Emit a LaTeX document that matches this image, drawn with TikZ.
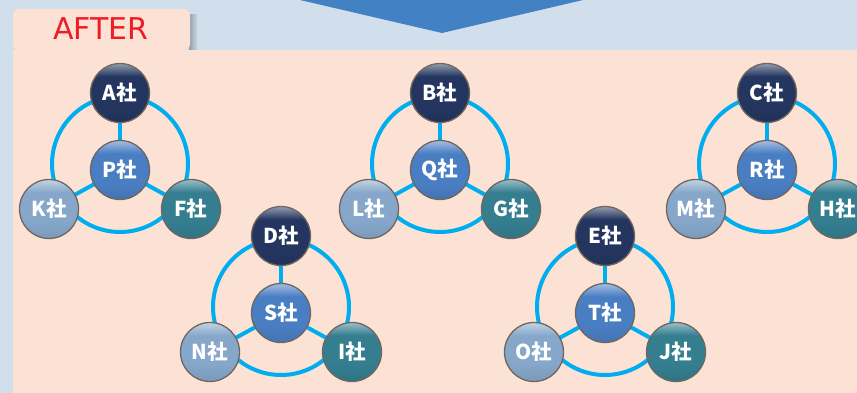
\documentclass[tikz,border=0pt]{standalone}
\usepackage{fontspec}
\setmainfont{DejaVu Sans}
\newfontfamily\jp{Noto Sans CJK JP}
\pgfdeclarelayer{bg}
\pgfsetlayers{bg,main}
\definecolor{bgblue}{HTML}{D1DFEC}
\definecolor{panel}{HTML}{FBE2D5}
\definecolor{arrowblue}{HTML}{4281C4}
\definecolor{afterred}{HTML}{EE1C25}
\definecolor{navy}{HTML}{243660}
\definecolor{midc}{HTML}{4A7EC3}
\definecolor{leftc}{HTML}{86A7CA}
\definecolor{rightc}{HTML}{347E90}
\definecolor{ringc}{HTML}{00AEEF}
\definecolor{rimc}{HTML}{6F6660}
\colorlet{base}{navy}
\pgfdeclareverticalshading[base]{glow}{100bp}{color(0bp)=(base!92!black); color(25bp)=(base!92!black); color(40bp)=(base); color(64bp)=(base); color(75bp)=(base!50!white); color(100bp)=(base!50!white)}
\tikzset{
  ball/.style={circle, minimum size=59pt, inner sep=0pt, draw=rimc, line width=1.3pt,
    text=white, font=\jp\bfseries\fontsize{20.5}{20.5}\selectfont,
    /utils/exec={\colorlet{base}{#1}}, shading=glow},
  ringline/.style={draw=ringc, line width=4pt},
  spoke/.style={draw=ringc, line width=4pt},
}
\newcommand\mycluster[6]{%
  \node[ball=navy]  (#3) at (#1,#2-77) {#3社};
  \node[ball=leftc] (#5) at (#1-71,#2+39) {#5社};
  \node[ball=rightc](#6) at (#1+71,#2+39) {#6社};
  \node[ball=midc]  (#4) at (#1,#2) {#4社};
  \coordinate (ring#4) at (#1,#2-6);
  \begin{pgfonlayer}{bg}
    \draw[ringline] (ring#4) circle[radius=68pt];
    \draw[spoke] (#4.center) -- (#3.center);
    \draw[spoke] (#4.center) -- (#5.center);
    \draw[spoke] (#4.center) -- (#6.center);
  \end{pgfonlayer}
}
\begin{document}
\begin{tikzpicture}[x=1pt,y=-1pt]
\useasboundingbox (0,0) rectangle (857,393);
\clip (0,0) rectangle (857,393);
\begin{pgfonlayer}{bg}
  \fill[bgblue] (0,0) rectangle (857,393);
  \fill[arrowblue] (300,0) -- (583,0) -- (442,33) -- cycle;
  \shade[left color=black!30!bgblue, right color=bgblue] (189,15) rectangle (198,50);
  \fill[panel, rounded corners=6pt] (13,50) -- (13,9) -- (190,9) -- (190,50) -- cycle;
  \fill[panel] (13,50) rectangle (857,393);
\end{pgfonlayer}
\node[font=\fontsize{30}{30}\selectfont, text=afterred, inner sep=0pt] (after) at (101,29) {AFTER};
\mycluster{120}{170}{A}{P}{K}{F}
\mycluster{440}{170}{B}{Q}{L}{G}
\mycluster{767}{170}{C}{R}{M}{H}
\mycluster{281}{313}{D}{S}{N}{I}
\mycluster{605}{313}{E}{T}{O}{J}
\end{tikzpicture}
\end{document}
